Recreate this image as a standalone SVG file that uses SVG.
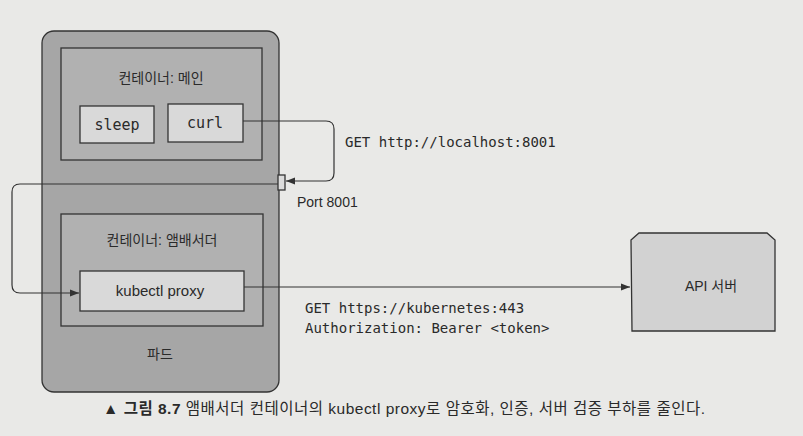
<svg xmlns="http://www.w3.org/2000/svg" width="803" height="436" viewBox="0 0 803 436">
  <defs>
    <marker id="arrow" viewBox="0 0 10 10" refX="10" refY="5" markerWidth="9" markerHeight="9" markerUnits="userSpaceOnUse" orient="auto">
      <path d="M0,1 L10,5 L0,9 Z" fill="#333"/>
    </marker>
    <style>
      .kr { font-family: "Liberation Sans", "Noto Sans CJK KR", sans-serif; fill: #2a2a2a; }
      .mono { font-family: "DejaVu Sans Mono", "Liberation Mono", monospace; fill: #2a2a2a; }
      .box { stroke: #333; stroke-width: 1.3; }
      .conn { fill: none; stroke: #333; stroke-width: 1.2; }
    </style>
  </defs>
  <rect x="0" y="0" width="803" height="436" fill="#e9e9e7"/>

  <g id="pod">
    <rect class="box" x="42" y="31" width="237" height="361" rx="12" fill="#a6a6a6"/>
    <text class="kr" x="160" y="359" font-size="14" text-anchor="middle">파드</text>
  </g>

  <g id="main-container">
    <rect class="box" x="61" y="48" width="201" height="112" fill="#b1b1b1"/>
    <text class="kr" x="161" y="83" font-size="14" text-anchor="middle">컨테이너: 메인</text>
  </g>

  <g id="sleep">
    <rect class="box" x="80" y="106" width="74" height="37" fill="#d9d9d9"/>
    <text class="mono" x="117" y="130" font-size="15" text-anchor="middle">sleep</text>
  </g>

  <g id="curl">
    <rect class="box" x="168" y="104" width="75" height="38" fill="#d9d9d9"/>
    <text class="mono" x="205" y="128" font-size="15" text-anchor="middle">curl</text>
  </g>

  <g id="port">
    <rect class="box" x="278" y="175" width="7" height="15" fill="#dcdcdc"/>
    <text class="kr" x="297" y="207" font-size="14">Port 8001</text>
  </g>

  <g id="ambassador-container">
    <rect class="box" x="61" y="214" width="202" height="112" fill="#b1b1b1"/>
    <text class="kr" x="162" y="245" font-size="14" text-anchor="middle">컨테이너: 앰배서더</text>
  </g>

  <g id="kubectl-proxy">
    <rect class="box" x="80" y="271" width="164" height="40" fill="#d9d9d9"/>
    <text class="kr" x="160" y="296" font-size="15" text-anchor="middle">kubectl proxy</text>
  </g>

  <g id="api-server">
    <path class="box" d="M631,240 L639,233 L767,233 L775,240 L775,331 L632,331 Z" fill="#d2d2d2"/>
    <text class="kr" x="711" y="291" font-size="14" text-anchor="middle">API 서버</text>
  </g>

  <g id="connectors">
    <path class="conn" d="M243,121 H326 Q334,121 334,129 V173 Q334,181 326,181 H286" marker-end="url(#arrow)"/>
    <path class="conn" d="M278,184 H20 Q12,184 12,192 V285 Q12,293 20,293 H79" marker-end="url(#arrow)"/>
    <path class="conn" d="M244,287 H630" marker-end="url(#arrow)"/>
    <text class="mono" x="345" y="147" font-size="14">GET http://localhost:8001</text>
    <text class="mono" x="305" y="313" font-size="14">GET https://kubernetes:443</text>
    <text class="mono" x="305" y="333" font-size="14">Authorization: Bearer &lt;token&gt;</text>
  </g>

  <g id="caption">
    <text class="kr" x="103" y="414" font-size="15.5" textLength="602" lengthAdjust="spacing"><tspan font-weight="bold">▲ 그림 8.7</tspan> 앰배서더 컨테이너의 kubectl proxy로 암호화, 인증, 서버 검증 부하를 줄인다.</text>
  </g>
</svg>
